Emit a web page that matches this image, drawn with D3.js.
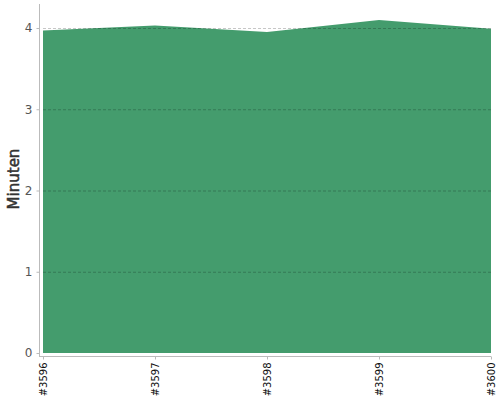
<!DOCTYPE html>
<html>
<head>
  <meta charset="utf-8">
  <script src="https://cdn.jsdelivr.net/npm/d3@7/dist/d3.min.js"></script>
  <style>
    body { margin: 0; background: #fff; font-family: "DejaVu Sans", sans-serif; }
  </style>
</head>
<body>
  <div id="chart"></div>
  <script>
    // builds and their duration in minutes
    const builds = ["#3596", "#3597", "#3598", "#3599", "#3600"];
    const minutes = [3.97, 4.03, 3.95, 4.1, 3.99];
    const yTicks = [0, 1, 2, 3, 4];

    const width = 500;
    const height = 400;
    const plot = { left: 43, right: 491, top: 28, bottom: 353 };

    const svg = d3.select("#chart").append("svg")
      .attr("width", width)
      .attr("height", height);

    const x = d3.scalePoint()
      .domain(builds)
      .range([plot.left, plot.right]);

    const y = d3.scaleLinear()
      .domain([0, 4])
      .range([plot.bottom, plot.top]);

    const data = builds.map((b, i) => ({ build: b, value: minutes[i] }));

    // area
    svg.append("path")
      .datum(data)
      .attr("fill", "#449c6d")
      .attr("d", d3.area()
        .x(d => x(d.build))
        .y0(y(0))
        .y1(d => y(d.value)));

    // grid lines (drawn over the area)
    svg.append("g")
      .selectAll("line")
      .data(yTicks.filter(t => t > 0))
      .join("line")
      .attr("x1", plot.left)
      .attr("x2", plot.right)
      .attr("y1", d => y(d) + 0.5)
      .attr("y2", d => y(d) + 0.5)
      .attr("stroke", "#000")
      .attr("stroke-opacity", 0.22)
      .attr("stroke-dasharray", "3,2");

    // y axis
    const yAxis = svg.append("g")
      .attr("transform", `translate(${plot.left - 3.5},0)`)
      .call(d3.axisLeft(y).tickValues(yTicks).tickFormat(d3.format("d")).tickSize(3).tickPadding(4));
    yAxis.select(".domain").attr("stroke", "#bbb").attr("d", `M0,4V${plot.bottom + 4}`);
    yAxis.selectAll(".tick line").attr("stroke", "#bbb");
    yAxis.selectAll(".tick text")
      .attr("fill", "#555")
      .style("font-family", "DejaVu Sans, sans-serif")
      .style("font-size", "12px");

    // x axis
    const xAxis = svg.append("g")
      .attr("transform", `translate(0,${plot.bottom + 3.5})`)
      .call(d3.axisBottom(x).tickSize(3).tickSizeOuter(0));
    xAxis.select(".domain").attr("stroke", "#bbb").attr("d", `M${plot.left - 3.5},0H${plot.right}`);
    xAxis.selectAll(".tick line").attr("stroke", "#bbb");
    xAxis.selectAll(".tick text")
      .attr("fill", "#111")
      .style("font-family", "DejaVu Sans, sans-serif")
      .style("font-size", "10px")
      .attr("text-anchor", "end")
      .attr("dy", "0.35em")
      .attr("transform", "translate(0,6) rotate(-90)")
      .attr("x", 0)
      .attr("y", 0);

    // y axis title
    svg.append("text")
      .attr("transform", "translate(19,179) rotate(-90)")
      .attr("text-anchor", "middle")
      .style("font-family", "DejaVu Sans, sans-serif")
      .style("font-size", "15px")
      .attr("fill", "#333")
      .attr("stroke", "#333")
      .attr("stroke-width", 0.5)
      .text("Minuten");
  </script>
</body>
</html>
